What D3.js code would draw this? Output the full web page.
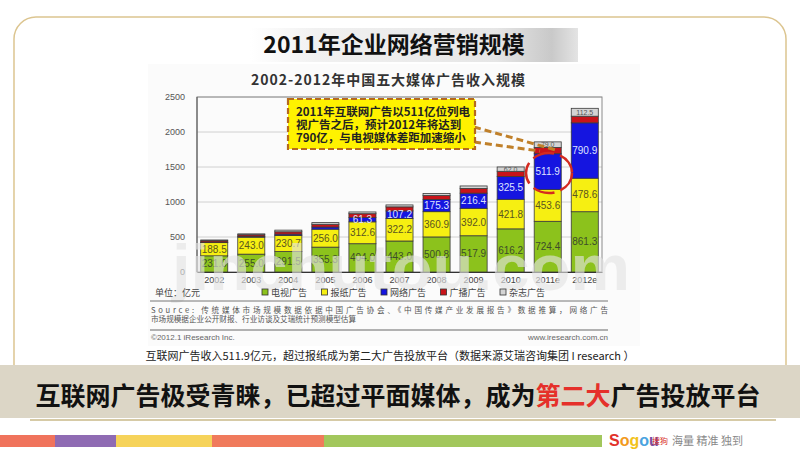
<!DOCTYPE html>
<html><head><meta charset="utf-8">
<script src="https://cdn.jsdelivr.net/npm/d3@7"></script>
<style>
body{margin:0;background:#fff;}
svg{display:block;font-family:"Noto Sans CJK SC","Liberation Sans",sans-serif;}
</style>
</head><body><svg id="c" width="800" height="450"></svg>
<script>
// ---------- data ----------
const years = ["2002","2003","2004","2005","2006","2007","2008","2009","2010","2011e","2012e"];
const tv        = [231.0, 255.0, 291.5, 355.3, 404.0, 443.0, 500.8, 517.9, 616.2, 724.4, 861.3];
const newspaper = [188.5, 243.0, 230.7, 256.0, 312.6, 322.2, 360.9, 392.0, 421.8, 453.6, 478.6];
const internet  = [4.9, 10.8, 19.0, 31.3, 61.3, 107.2, 175.3, 216.4, 325.5, 511.9, 790.9];
const radio     = [20.0, 22.0, 33.0, 39.0, 55.0, 58.0, 55.0, 68.0, 75.0, 90.0, 95.0];
const magazine  = [13.0, 14.0, 24.0, 24.0, 25.0, 28.0, 30.0, 35.0, 62.0, 79.0, 112.5];
const seriesKeys = ["tv","newspaper","internet","radio","magazine"];
const seriesNames = ["电视广告","报纸广告","网络广告","广播广告","杂志广告"];
const yTicks = [0, 500, 1000, 1500, 2000, 2500];
const tvLabelYears = years;
const newsLabelYears = years;
const netLabelYears = ["2006","2007","2008","2009","2010","2011e","2012e"];
const magLabelYears = ["2010","2011e","2012e"];

const colors = {tv:"#8cc21c", newspaper:"#f6ef12", internet:"#1515e0", radio:"#c8141a", magazine:"#d4d4d4"};

const table = years.map((yr,i)=>({year:yr, tv:tv[i], newspaper:newspaper[i], internet:internet[i], radio:radio[i], magazine:magazine[i]}));

const svg = d3.select("#c");
const defs = svg.append("defs");
const g1 = defs.append("linearGradient").attr("id","titleGrad");
g1.append("stop").attr("offset","0%").attr("stop-color","#ffffff");
g1.append("stop").attr("offset","20%").attr("stop-color","#f1f1f1");
g1.append("stop").attr("offset","75%").attr("stop-color","#e6e6e6");
g1.append("stop").attr("offset","92%").attr("stop-color","#c9c9c9");
g1.append("stop").attr("offset","100%").attr("stop-color","#e4e4e4");

// slide frame
svg.append("rect").attr("x",14).attr("y",17).attr("width",772).attr("height",400).attr("rx",22)
  .attr("fill","none").attr("stroke","#dcc590").attr("stroke-width",1.5);

// slide title
svg.append("rect").attr("x",250).attr("y",28).attr("width",328).attr("height",34).attr("fill","url(#titleGrad)");
svg.append("text").attr("x",394).attr("y",53).attr("text-anchor","middle")
  .attr("font-size",23).attr("font-weight",700).attr("fill","#111").text("2011年企业网络营销规模");

// chart image background
svg.append("rect").attr("x",148).attr("y",64).attr("width",492).attr("height",282).attr("fill","#fbfbfb");

// chart title
svg.append("text").attr("x",388).attr("y",85).attr("text-anchor","middle")
  .attr("font-size",14).attr("font-weight",700).attr("fill","#333")
  .attr("textLength",274).attr("lengthAdjust","spacing")
  .text("2002-2012年中国五大媒体广告收入规模");

// scales
const x = d3.scaleBand().domain(years).range([197,602]).paddingInner(0.27).paddingOuter(0.1);
const y = d3.scaleLinear().domain([0,2500]).range([272,97]);

// gridlines
svg.append("g").selectAll("line").data(yTicks).join("line")
  .attr("x1",197).attr("x2",602).attr("y1",d=>y(d)).attr("y2",d=>y(d))
  .attr("stroke","#d0d0d0").attr("stroke-width",1);

// frame
svg.append("rect").attr("x",197).attr("y",y(2500)).attr("width",405).attr("height",y(0)-y(2500))
  .attr("fill","none").attr("stroke","#8a8a8a").attr("stroke-width",1);
svg.append("line").attr("x1",197).attr("x2",197).attr("y1",y(2500)).attr("y2",y(0)).attr("stroke","#555");

// y axis
const yAxis = svg.append("g").attr("transform","translate(197,0)")
  .call(d3.axisLeft(y).tickValues(yTicks).tickSize(0).tickPadding(12).tickFormat(d3.format("d")));
yAxis.select(".domain").remove();
yAxis.selectAll("text").attr("font-size",9).attr("fill","#555").attr("font-family","Liberation Sans, sans-serif");

// bars
const stack = d3.stack().keys(seriesKeys)(table);
const layers = svg.append("g").selectAll("g").data(stack).join("g").attr("fill",d=>colors[d.key]);
layers.selectAll("rect").data(d=>d).join("rect")
  .attr("x",d=>x(d.data.year)).attr("width",x.bandwidth())
  .attr("y",d=>y(d[1])).attr("height",d=>y(d[0])-y(d[1]))
  .attr("stroke","#3a3a3a").attr("stroke-width",0.8);

// segment labels
function labels(key, yrs, color, size){
  const layer = stack.find(s=>s.key===key);
  svg.append("g").selectAll("text").data(layer.filter(d=>yrs.includes(d.data.year))).join("text")
    .attr("x",d=>x(d.data.year)+x.bandwidth()/2)
    .attr("y",d=>(y(d[0])+y(d[1]))/2+size*0.35)
    .attr("text-anchor","middle").attr("font-size",size).attr("fill",color)
    .attr("font-family","Liberation Sans, sans-serif")
    .text(d=>d3.format(".1f")(d[1]-d[0]));
}
labels("tv", tvLabelYears, "#3d4d2a", 10);
labels("newspaper", newsLabelYears, "#5a5520", 10);
labels("internet", netLabelYears, "#dfe3ff", 10);
labels("magazine", magLabelYears, "#555", 7);

// x axis
const xAxis = svg.append("g").attr("transform","translate(0,272)")
  .call(d3.axisBottom(x).tickSize(0).tickPadding(5));
xAxis.select(".domain").attr("stroke","#333");
xAxis.selectAll("text").attr("font-size",9).attr("fill","#444").attr("font-family","Liberation Sans, sans-serif");

// watermark
svg.append("text").attr("x",172).attr("y",290).attr("font-size",64).attr("font-weight",700)
  .attr("font-family","Liberation Sans, sans-serif")
  .attr("textLength",458).attr("lengthAdjust","spacingAndGlyphs")
  .attr("fill","#e4e4e4").attr("opacity",0.62).text("jinchutou.com");

// callout pointer
const call = svg.append("g");
call.append("line").attr("x1",474).attr("y1",127).attr("x2",556).attr("y2",150)
  .attr("stroke","#c0802a").attr("stroke-width",3).attr("stroke-dasharray","7,4");
call.append("line").attr("x1",474).attr("y1",142).attr("x2",540).attr("y2",151)
  .attr("stroke","#c0802a").attr("stroke-width",3).attr("stroke-dasharray","7,4");
call.append("rect").attr("x",288).attr("y",99).attr("width",187).attr("height",50)
  .attr("fill","#fff200").attr("stroke","#b56a1e").attr("stroke-width",2.2).attr("stroke-dasharray","6,3");
const calloutLines = ["2011年互联网广告以511亿位列电","视广告之后，预计2012年将达到","790亿，与电视媒体差距加速缩小"];
call.selectAll("text.cl").data(calloutLines).join("text").attr("class","cl")
  .attr("x",296).attr("y",(d,i)=>116+i*13).attr("font-size",11.5).attr("font-weight",700).attr("fill","#222")
  .text(d=>d);

// red dashed ellipse
svg.append("ellipse").attr("cx",549).attr("cy",173).attr("rx",23).attr("ry",20)
  .attr("fill","none").attr("stroke","#d42a20").attr("stroke-width",2.5).attr("stroke-dasharray","22,6");

// legend
svg.append("text").attr("x",155).attr("y",296).attr("font-size",9).attr("fill","#444").text("单位：亿元");
const leg = svg.append("g").selectAll("g").data(seriesKeys).join("g")
  .attr("transform",(d,i)=>`translate(${262+i*59.5},0)`);
leg.append("rect").attr("x",0).attr("y",289).attr("width",6).attr("height",6)
  .attr("fill",d=>colors[d]).attr("stroke","#333").attr("stroke-width",0.8);
leg.append("text").attr("x",9).attr("y",296).attr("font-size",9).attr("fill","#444").text((d,i)=>seriesNames[i]);

// source
svg.append("line").attr("x1",150).attr("x2",608).attr("y1",301).attr("y2",301).attr("stroke","#777").attr("stroke-width",1);
svg.append("text").attr("x",151).attr("y",313).attr("font-size",7.6).attr("fill","#555")
  .attr("textLength",457).attr("lengthAdjust","spacing")
  .text("Source: 传统媒体市场规模数据依据中国广告协会、《中国传媒产业发展报告》数据推算，网络广告");
svg.append("text").attr("x",151).attr("y",322).attr("font-size",7.6).attr("fill","#555")
  .text("市场规模据企业公开财报、行业访谈及艾瑞统计预测模型估算");
svg.append("line").attr("x1",150).attr("x2",608).attr("y1",330).attr("y2",330).attr("stroke","#999").attr("stroke-width",1.5);
svg.append("text").attr("x",151).attr("y",340).attr("font-size",8).attr("fill","#666")
  .attr("font-family","Liberation Sans, sans-serif").text("©2012.1 iResearch Inc.");
svg.append("text").attr("x",608).attr("y",340).attr("text-anchor","end").attr("font-size",8).attr("fill","#666")
  .attr("font-family","Liberation Sans, sans-serif").text("www.iresearch.com.cn");

// caption
svg.append("text").attr("x",390).attr("y",360).attr("text-anchor","middle").attr("font-size",11).attr("fill","#222")
  .text("互联网广告收入511.9亿元，超过报纸成为第二大广告投放平台（数据来源艾瑞咨询集团 I research ）");

// banner
svg.append("rect").attr("x",0).attr("y",365).attr("width",800).attr("height",53).attr("fill","#dcd6c6");
svg.append("line").attr("x1",30).attr("x2",776).attr("y1",420).attr("y2",420).attr("stroke","#c9b988").attr("stroke-width",1.5);
const ban = svg.append("text").attr("x",398).attr("y",405).attr("text-anchor","middle")
  .attr("font-size",25).attr("font-weight",700).attr("fill","#111");
ban.append("tspan").text("互联网广告极受青睐，已超过平面媒体，成为");
ban.append("tspan").attr("fill","#e5302a").text("第二大");
ban.append("tspan").text("广告投放平台");

// bottom color strip
const stripColors = ["#f0735c","#8f6bb3","#f6d35a","#f07a5c","#a2c75c"];
const stripEdges = [0,55,116,212,324,602];
svg.append("g").selectAll("rect").data(stripColors).join("rect")
  .attr("x",(d,i)=>stripEdges[i]).attr("width",(d,i)=>stripEdges[i+1]-stripEdges[i])
  .attr("y",435).attr("height",12).attr("fill",d=>d);

// sogou logo
const logo = svg.append("text").attr("x",609).attr("y",446).attr("font-size",16).attr("font-weight",700)
  .attr("font-family","Liberation Sans, sans-serif");
[["S","#e2322b"],["o","#f29a1d"],["g","#f2c21b"],["o","#4aa3df"],["u","#7a4fa6"]].forEach(([c,col])=>
  logo.append("tspan").attr("fill",col).text(c));
svg.append("text").attr("x",652).attr("y",444).attr("font-size",8).attr("fill","#d8302a").text("搜狗");
svg.append("text").attr("x",672).attr("y",445).attr("font-size",11).attr("fill","#888").text("海量 精准 独到");
</script>
</body></html>
